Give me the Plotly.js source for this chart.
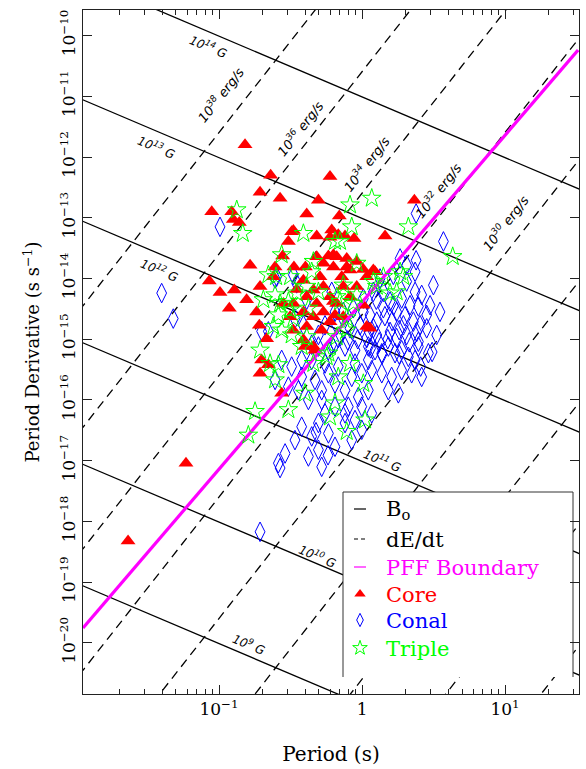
<!DOCTYPE html>
<html><head><meta charset="utf-8">
<script src="https://cdn.plot.ly/plotly-3.0.1.min.js"></script>
<style>html,body{margin:0;padding:0;background:#fff}#chart{width:586px;height:769px}</style>
</head><body><div id="chart"></div>
<script>
// ---------------- data (log10 of Period [s] and Period derivative [s/s]) ----------------
const coreLogP = [
 -0.818,-0.639,-0.224,-0.713,-0.573,-0.305,-1.051,-0.911,-0.900,-0.858,
 -0.387,-0.159,0.366,0.161,-0.480,-0.515,-0.212,-0.224,-0.119,-0.056,
 -0.317,-0.555,-0.783,-1.068,-0.993,-0.893,-0.928,-0.807,-0.713,-0.608,
 -0.476,-0.396,-0.737,-0.718,-0.667,-0.702,-0.713,-0.655,-0.562,-0.317,
 -0.235,-0.177,-0.270,-0.200,-0.084,0.009,0.079,0.033,-0.142,-0.294,
 -0.410,-0.457,-0.340,-0.270,-0.131,-0.224,-0.387,-0.480,-0.317,-0.177,
 -0.084,-0.037,-0.270,-0.410,-0.550,-0.503,-0.340,-0.224,-0.131,-0.387,
 -0.282,0.033,-0.480,-0.410,-0.340,-0.107,-0.037,-0.620,-0.492,-0.166,
 -0.200,-0.107,0.091,0.056,0.009,-0.200,-0.189,-0.399,-0.329,-1.636,
 -1.231];
const coreLogPdot = [
 -11.80,-12.30,-12.32,-12.58,-12.68,-12.71,-12.90,-12.90,-13.03,-13.08,
 -12.94,-12.97,-12.71,-13.30,-13.21,-13.39,-13.20,-13.32,-13.30,-13.34,
 -13.30,-13.63,-13.78,-14.04,-14.23,-14.19,-14.49,-14.35,-14.13,-13.81,
 -13.81,-13.81,-14.55,-14.77,-14.99,-15.34,-15.56,-15.42,-15.89,-13.64,
 -13.63,-13.64,-13.75,-13.81,-13.86,-13.85,-13.86,-13.97,-13.97,-13.97,
 -14.03,-14.18,-14.19,-14.13,-14.13,-14.30,-14.30,-14.41,-14.41,-14.41,
 -14.30,-14.13,-14.55,-14.55,-14.41,-14.63,-14.63,-14.71,-14.63,-14.79,
 -14.85,-14.79,-14.85,-15.01,-15.12,-13.81,-13.72,-13.97,-13.23,-13.28,
 -13.61,-13.67,-13.89,-14.82,-14.44,-14.38,-14.60,-15.12,-15.18,-18.32,
 -17.04];

const conalLogP = [
 -1.401,-1.320,-0.993,-0.713,-0.573,0.378,0.569,0.378,0.490,
 0.371,0.312,0.371,0.277,0.336,0.394,0.452,0.359,0.406,0.289,
 0.242,0.196,0.149,0.103,0.056,0.196,0.103,0.033,0.242,0.312,
 0.382,0.394,0.452,0.522,0.476,0.417,0.312,0.266,0.219,0.126,
 0.079,0.009,-0.061,-0.131,-0.177,-0.084,-0.014,0.149,0.009,0.079,
 0.499,0.545,
 -0.189,-0.119,-0.049,-0.235,-0.305,0.044,0.091,0.138,0.184,0.231,
 0.277,0.324,0.371,0.394,0.464,0.044,-0.049,-0.166,-0.259,-0.352,
 -0.422,-0.492,-0.562,-0.608,-0.515,-0.445,-0.375,-0.422,-0.329,-0.282,
 -0.235,-0.189,-0.119,-0.072,-0.002,0.068,0.138,0.207,0.277,0.347,
 0.417,0.184,0.254,0.044,-0.026,-0.096,-0.002,0.068,-0.189,-0.259,
 -0.305,-0.422,-0.469,-0.538,-0.352,-0.235,-0.119,-0.189,-0.305,-0.375,
 -0.072,-0.002,-0.119,-0.049,-0.282,-0.585,-0.282,
 -0.608,-0.480,-0.457,-0.387,-0.410,-0.469,-0.655,-0.702,-0.212,-0.189,
 -0.259,-0.305,-0.352,-0.166,-0.212,-0.597,
 0.10,0.16,0.21,0.12,0.18,0.26,0.05,-0.03,0.22,0.30,
 0.14,0.06,-0.10,0.26,0.33,0.41,-0.322,-0.238];
const conalLogPdot = [
 -14.24,-14.66,-13.15,-18.17,-17.12,-12.93,-13.39,-13.70,-15.21,
 -13.89,-14.05,-14.22,-14.33,-14.44,-14.46,-14.60,-14.71,-14.77,-14.77,
 -14.55,-14.38,-14.49,-14.71,-14.60,-14.88,-14.93,-14.98,-14.98,-14.93,
 -14.88,-15.04,-14.82,-14.93,-14.44,-14.27,-13.78,-13.67,-13.94,-14.00,
 -14.22,-14.33,-14.49,-14.55,-14.77,-14.82,-14.77,-14.22,-14.55,-14.82,
 -14.11,-14.55,
 -15.07,-15.12,-15.18,-15.18,-15.12,-15.12,-15.18,-15.23,-15.12,-15.23,
 -15.18,-15.29,-15.34,-15.12,-15.23,-15.34,-15.40,-15.45,-15.40,-15.34,
 -15.34,-15.45,-15.34,-15.67,-15.78,-15.84,-16.00,-15.62,-15.67,-15.84,
 -15.56,-15.73,-15.84,-15.62,-15.56,-15.51,-15.56,-15.62,-15.51,-15.56,
 -15.62,-15.84,-15.89,-15.84,-15.95,-16.11,-16.11,-16.22,-16.11,-16.22,
 -16.38,-16.44,-16.66,-16.88,-16.60,-16.55,-16.38,-16.77,-16.82,-16.93,
 -16.66,-16.49,-16.22,-16.33,-16.00,-17.04,-17.10,
 -14.00,-13.94,-14.08,-14.35,-14.77,-14.66,-14.87,-14.87,-14.22,-14.55,
 -14.77,-14.93,-15.09,-14.98,-15.09,-13.97,
 -14.35,-14.62,-14.70,-15.05,-15.00,-14.85,-14.88,-15.00,-14.45,-14.62,
 -15.25,-15.15,-15.02,-15.25,-15.05,-15.45,-16.53,-16.91];

const tripleLogP = [
 -0.876,-0.834,-0.084,0.068,0.324,-0.072,-0.154,-0.410,-0.562,-0.340,
 -0.037,-0.601,-0.690,-0.573,-0.503,-0.061,0.196,0.149,0.103,-0.177,
 -0.387,-0.620,-0.713,-0.643,-0.562,-0.107,-0.387,-0.177,-0.247,-0.084,
 0.289,-0.340,-0.224,0.009,-0.503,-0.457,0.634,0.266,0.242,-0.131,
 -0.037,-0.154,0.079,-0.107,-0.655,-0.608,-0.515,-0.585,-0.480,-0.375,
 -0.305,-0.492,-0.352,-0.189,-0.585,-0.748,-0.795,-0.399,-0.189,-0.107,
 0.021,-0.166,-0.235,-0.422,-0.608,-0.515];
const tripleLogPdot = [
 -12.87,-13.26,-12.79,-12.68,-13.15,-13.15,-13.39,-13.26,-13.61,-13.72,
 -13.75,-13.97,-14.35,-14.41,-14.52,-14.41,-14.24,-13.97,-14.13,-14.30,
 -14.13,-14.79,-15.18,-15.40,-14.85,-14.85,-14.96,-14.96,-15.29,-15.40,
 -13.97,-15.40,-16.28,-15.73,-13.97,-14.24,-13.64,-13.89,-14.22,-14.11,
 -14.27,-14.38,-14.05,-14.65,-13.94,-14.27,-14.38,-14.60,-14.66,-14.49,
 -14.22,-14.93,-13.89,-13.39,-15.42,-16.19,-16.58,-15.89,-16.05,-16.52,
 -16.33,-15.62,-15.23,-15.12,-15.67,-16.16];

// reference lines
const bFieldLogGauss = [9, 10, 11, 12, 13, 14];              // B = 3.2e19 sqrt(P Pdot)
const edotLogErgPerS = [22, 24, 26, 28, 30, 32, 34, 36, 38]; // Edot = 4 pi^2 I Pdot / P^3
const lineSpanP = [0.005, 60];
const pffPeriod = [0.0112, 32.4];
const pffPdot = [1.77e-20, 5.77e-11];

const xTickVals = [0.1, 1, 10];
const xTickText = ['10<sup>\u22121</sup>', '1', '10<sup>1</sup>'];
const yTickExp = [-20,-19,-18,-17,-16,-15,-14,-13,-12,-11,-10];

const legendLabels = ['B<sub>o</sub>', 'dE/dt', 'PFF Boundary', 'Core', 'Conal', 'Triple'];

// ---------------- build ----------------
const lin = a => a.map(v => Math.pow(10, v));
const SERIF = 'DejaVu Serif';
const RED = '#ff0000', BLUE = '#0000ff', GREEN = '#00ff00', MAGENTA = '#ff00ff';

const bx = [], by = [];
bFieldLogGauss.forEach(lb => {
  const B = Math.pow(10, lb);
  lineSpanP.forEach(P => { bx.push(P); by.push(Math.pow(B / 3.2e19, 2) / P); });
  bx.push(null); by.push(null);
});
const ex = [], ey = [];
edotLogErgPerS.forEach(le => {
  const E = Math.pow(10, le);
  lineSpanP.forEach(P => { ex.push(P); ey.push(E * P * P * P / (4 * Math.PI * Math.PI * 1e45)); });
  ex.push(null); ey.push(null);
});

const triSym = {symbol: 'triangle-up', color: RED, line: {width: 0}};
const diaSym = {symbol: 'diamond-tall-open', color: BLUE, line: {width: 1, color: BLUE}};
const starSym = {symbol: 'star-open', color: GREEN, line: {width: 1, color: GREEN}};

const traces = [
  {x: bx, y: by, mode: 'lines', name: legendLabels[0], showlegend: false,
   line: {color: '#000', width: 1.3}, connectgaps: false},
  {x: ex, y: ey, mode: 'lines', name: legendLabels[1], showlegend: false,
   line: {color: '#000', width: 1.3, dash: '9px,6px'}, connectgaps: false},
  {x: lin(conalLogP), y: lin(conalLogPdot), mode: 'markers', name: legendLabels[4], showlegend: false,
   marker: Object.assign({size: 14}, diaSym)},
  {x: lin(coreLogP), y: lin(coreLogPdot), mode: 'markers', name: legendLabels[3], showlegend: false,
   marker: Object.assign({size: 13}, triSym)},
  {x: pffPeriod, y: pffPdot, mode: 'lines', name: legendLabels[2], showlegend: false,
   line: {color: MAGENTA, width: 3.2}},
  {x: lin(tripleLogP), y: lin(tripleLogPdot), mode: 'markers', name: legendLabels[5], showlegend: false,
   marker: Object.assign({size: 14}, starSym)}
];

// ---- legend (drawn on an overlay axis spanning the plot area, 0..1) ----
const px = v => (v - 83) / 496;      // pixel -> plot-fraction helpers for legend layout
const py = v => (694 - v) / 684;
const legRows = [509, 539, 567, 594, 620, 648];
const legColors = ['#000', '#000', MAGENTA, RED, BLUE, GREEN];
const boxL = px(343), boxR = px(573), boxT = py(492), boxB = py(677);
traces.push({x: [boxL, boxR, boxR, boxL], y: [boxB, boxB, boxT, boxT], xaxis: 'x2', yaxis: 'y2',
  mode: 'lines', fill: 'toself', fillcolor: '#ffffff', line: {width: 0, color: 'rgba(0,0,0,0)'}, showlegend: false});
traces.push({x: [boxL, boxL, boxR, boxR], y: [boxB, boxT, boxT, boxB], xaxis: 'x2', yaxis: 'y2',
  mode: 'lines', line: {width: 1, color: '#333'}, showlegend: false});
traces.push({x: [px(354), px(366)], y: [py(legRows[0]), py(legRows[0])], xaxis: 'x2', yaxis: 'y2',
  mode: 'lines', line: {width: 1.2, color: '#000'}, showlegend: false});
traces.push({x: [px(354), px(367)], y: [py(legRows[1]), py(legRows[1])], xaxis: 'x2', yaxis: 'y2',
  mode: 'lines', line: {width: 1.2, color: '#000', dash: '4px,3px'}, showlegend: false});
traces.push({x: [px(354), px(366)], y: [py(legRows[2]), py(legRows[2])], xaxis: 'x2', yaxis: 'y2',
  mode: 'lines', line: {width: 1.2, color: MAGENTA}, showlegend: false});
traces.push({x: [px(360)], y: [py(legRows[3])], xaxis: 'x2', yaxis: 'y2', mode: 'markers', showlegend: false,
  marker: Object.assign({size: 10}, triSym)});
traces.push({x: [px(360)], y: [py(legRows[4])], xaxis: 'x2', yaxis: 'y2', mode: 'markers', showlegend: false,
  marker: Object.assign({size: 9.5}, diaSym)});
traces.push({x: [px(360)], y: [py(legRows[5])], xaxis: 'x2', yaxis: 'y2', mode: 'markers', showlegend: false,
  marker: Object.assign({size: 11}, starSym)});

const bLabelFont = {family: 'DejaVu Sans', size: 12, color: '#000', style: 'italic'};
const eLabelFont = {family: 'DejaVu Sans', size: 13, color: '#000', style: 'italic'};
const bLabelPos = {9: [-0.790, -20.02], 10: [-0.308, -18.57], 11: [0.140, -16.99],
                   12: [-1.413, -13.86], 13: [-1.434, -11.835], 14: [-1.077, -10.17]};
const eLabelPos = {38: [-0.993, -10.98], 36: [-0.434, -11.52], 34: [0.028, -12.12],
                   32: [0.531, -12.54], 30: [1.0, -13.09]};
const annotations = [];
bFieldLogGauss.forEach(lb => {
  const p = bLabelPos[lb];
  annotations.push({xref: 'x', yref: 'y', x: p[0], y: p[1], showarrow: false,
    text: '10<sup>' + lb + '</sup> G', textangle: 23, font: bLabelFont});
});
[38, 36, 34, 32, 30].forEach(le => {
  const p = eLabelPos[le];
  annotations.push({xref: 'x', yref: 'y', x: p[0], y: p[1], showarrow: false,
    text: '10<sup>' + le + '</sup> erg/s', textangle: -52, font: eLabelFont});
});
legendLabels.forEach((t, i) => {
  annotations.push({xref: 'paper', yref: 'paper', x: px(384), y: py(legRows[i] + 1),
    xanchor: 'left', yanchor: 'middle', showarrow: false, text: t,
    font: {family: SERIF, size: 21, color: legColors[i]}});
});

const minorX = [];
[-2, -1, 0, 1].forEach(n => { for (let m = 2; m <= 9; m++) minorX.push(m * Math.pow(10, n)); });

const axCommon = {showline: true, linecolor: '#222', linewidth: 1, mirror: 'ticks',
  ticks: 'inside', ticklen: 9, tickwidth: 1, tickcolor: '#222',
  showgrid: false, zeroline: false};

const layout = {
  width: 586, height: 769,
  margin: {l: 83, r: 7, t: 10, b: 75},
  paper_bgcolor: '#fff', plot_bgcolor: '#fff',
  font: {family: SERIF, color: '#000'},
  hovermode: false,
  showlegend: false,
  xaxis: Object.assign({}, axCommon, {
    type: 'log', range: [-1.951, 1.517],
    tickmode: 'array', tickvals: xTickVals, ticktext: xTickText,
    tickfont: {family: SERIF, size: 17, color: '#000'},
    minor: {tickmode: 'array', tickvals: minorX, ticks: 'inside', ticklen: 5, tickwidth: 1, tickcolor: '#222', showgrid: false},
    title: {text: 'Period (s)', font: {family: SERIF, size: 20, color: '#000'}, standoff: 28}
  }),
  yaxis: Object.assign({}, axCommon, {
    type: 'log', range: [-20.84, -9.58],
    tickmode: 'array', tickvals: yTickExp.map(e => Math.pow(10, e)),
    ticktext: yTickExp.map(e => '10<sup>\u2212' + Math.abs(e) + '</sup>'),
    tickangle: -90,
    tickfont: {family: SERIF, size: 17, color: '#000'},
    title: {text: 'Period Derivative (s s<sup>\u22121</sup>)', font: {family: SERIF, size: 18, color: '#000'}, standoff: 12}
  }),
  xaxis2: {overlaying: 'x', range: [0, 1], visible: false, fixedrange: true},
  yaxis2: {overlaying: 'y', range: [0, 1], visible: false, fixedrange: true},
  annotations: annotations
};

Plotly.newPlot('chart', traces, layout, {displayModeBar: false, staticPlot: true});
</script>
</body></html>
